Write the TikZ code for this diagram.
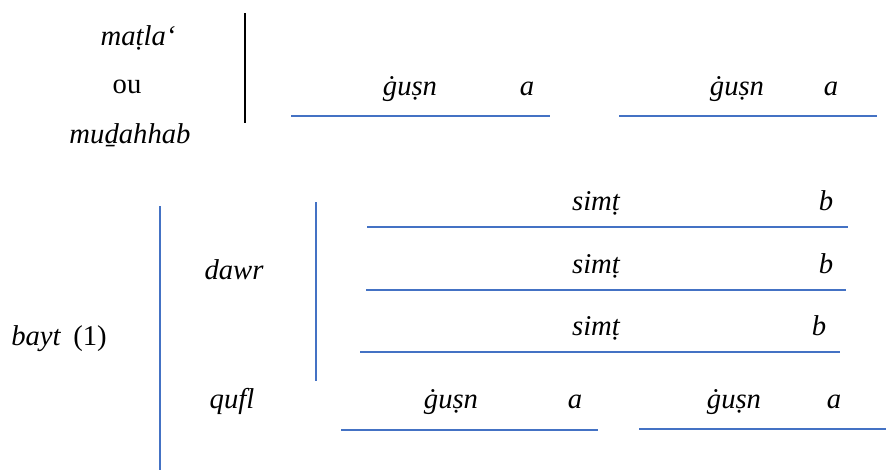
\documentclass[tikz,border=0pt]{standalone}
\usepackage{fontspec}
\setmainfont{Liberation Serif}
\newfontfamily\tms{Liberation Serif}
\begin{document}
\begin{tikzpicture}[x=0.75pt,y=-0.75pt,
  lbl/.style={font=\tms\fontsize{21.5}{25}\selectfont\itshape, inner sep=0pt, anchor=base},
  rom/.style={font=\tms\fontsize{21.5}{25}\selectfont, inner sep=0pt, anchor=base},
  bline/.style={draw=blueline, line width=1.5pt},
  kline/.style={draw=black, line width=1.5pt}]
\definecolor{blueline}{RGB}{68,114,196}
\useasboundingbox (0,0) rectangle (886,472);
% matla / ou / mudahhab
\node[lbl] (matla) at (138,45) {maṭla‘};
\node[rom] (ou) at (127,93) {ou};
\node[lbl] (mudahhab) at (130,143) {muḏahhab};
\coordinate (k1) at (245,13);
\coordinate (k2) at (245,123);
\draw[kline] (k1) -- (k2);
% top ghusn
\node[lbl] (g1) at (410,95) {ġuṣn};
\node[lbl] (a1) at (527,95) {a};
\coordinate (l1a) at (291,116); \coordinate (l1b) at (550,116);
\draw[bline] (l1a) -- (l1b);
\node[lbl] (g2) at (737,95) {ġuṣn};
\node[lbl] (a2) at (831,95) {a};
\coordinate (l2a) at (619,116); \coordinate (l2b) at (877,116);
\draw[bline] (l2a) -- (l2b);
% bayt
\node[lbl] (bayt) at (36,345) {bayt};
\node[rom] (one) at (90,345) {(1)};
\coordinate (v1a) at (160,206); \coordinate (v1b) at (160,470);
\draw[bline] (v1a) -- (v1b);
\node[lbl] (dawr) at (234,279) {dawr};
\coordinate (v2a) at (316,202); \coordinate (v2b) at (316,381);
\draw[bline] (v2a) -- (v2b);
% simt
\node[lbl] (s1) at (596,210) {simṭ};
\node[lbl] (b1) at (826,210) {b};
\coordinate (s1a) at (367,227); \coordinate (s1b) at (848,227);
\draw[bline] (s1a) -- (s1b);
\node[lbl] (s2) at (596,273) {simṭ};
\node[lbl] (b2) at (826,273) {b};
\coordinate (s2a) at (366,290); \coordinate (s2b) at (846,290);
\draw[bline] (s2a) -- (s2b);
\node[lbl] (s3) at (596,335) {simṭ};
\node[lbl] (b3) at (819,335) {b};
\coordinate (s3a) at (360,352); \coordinate (s3b) at (840,352);
\draw[bline] (s3a) -- (s3b);
% qufl
\node[lbl] (qufl) at (232,408) {qufl};
\node[lbl] (g3) at (451,408) {ġuṣn};
\node[lbl] (a3) at (575,408) {a};
\coordinate (q1a) at (341,430); \coordinate (q1b) at (598,430);
\draw[bline] (q1a) -- (q1b);
\node[lbl] (g4) at (734,408) {ġuṣn};
\node[lbl] (a4) at (834,408) {a};
\coordinate (q2a) at (639,429); \coordinate (q2b) at (886,429);
\draw[bline] (q2a) -- (q2b);
\end{tikzpicture}
\end{document}
